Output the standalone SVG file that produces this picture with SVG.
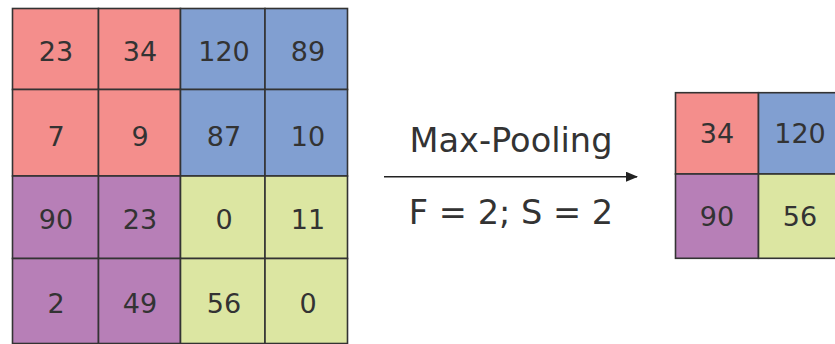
<svg xmlns="http://www.w3.org/2000/svg" width="835" height="344" viewBox="0 0 835 344">
<defs>
<style>
.r{fill:#F48E8C}.b{fill:#819FD1}.p{fill:#B77FB7}.g{fill:#DCE6A2}
rect{stroke:#333;stroke-width:1.6}
text{font-family:"DejaVu Sans",sans-serif;fill:#333;text-anchor:middle}
.n{font-size:27px}
.l{font-size:33.6px}
</style>
<marker id="ah" markerWidth="12" markerHeight="10" refX="11" refY="5" orient="auto" markerUnits="userSpaceOnUse">
<path d="M0,0 L12,5 L0,10 Z" fill="#222"/>
</marker>
</defs>
<g id="input">
<rect class="r" x="12.5" y="8.5" width="86" height="81"/>
<rect class="r" x="98.5" y="8.5" width="82" height="81"/>
<rect class="b" x="180.5" y="8.5" width="84.5" height="81"/>
<rect class="b" x="265" y="8.5" width="82.5" height="81"/>
<rect class="r" x="12.5" y="89.5" width="86" height="86.5"/>
<rect class="r" x="98.5" y="89.5" width="82" height="86.5"/>
<rect class="b" x="180.5" y="89.5" width="84.5" height="86.5"/>
<rect class="b" x="265" y="89.5" width="82.5" height="86.5"/>
<rect class="p" x="12.5" y="176" width="86" height="82.5"/>
<rect class="p" x="98.5" y="176" width="82" height="82.5"/>
<rect class="g" x="180.5" y="176" width="84.5" height="82.5"/>
<rect class="g" x="265" y="176" width="82.5" height="82.5"/>
<rect class="p" x="12.5" y="258.5" width="86" height="85"/>
<rect class="p" x="98.5" y="258.5" width="82" height="85"/>
<rect class="g" x="180.5" y="258.5" width="84.5" height="85"/>
<rect class="g" x="265" y="258.5" width="82.5" height="85"/>
<text class="n" x="56" y="61">23</text>
<text class="n" x="140" y="61">34</text>
<text class="n" x="224" y="61">120</text>
<text class="n" x="308" y="61">89</text>
<text class="n" x="56" y="146">7</text>
<text class="n" x="140" y="146">9</text>
<text class="n" x="224" y="146">87</text>
<text class="n" x="308" y="146">10</text>
<text class="n" x="56" y="229">90</text>
<text class="n" x="140" y="229">23</text>
<text class="n" x="224" y="229">0</text>
<text class="n" x="308" y="229">11</text>
<text class="n" x="56" y="313">2</text>
<text class="n" x="140" y="313">49</text>
<text class="n" x="224" y="313">56</text>
<text class="n" x="308" y="313">0</text>
</g>
<g id="output">
<rect class="r" x="675.5" y="92.7" width="83" height="81.3"/>
<rect class="b" x="758.5" y="92.7" width="83" height="81.3"/>
<rect class="p" x="675.5" y="174" width="83" height="84.3"/>
<rect class="g" x="758.5" y="174" width="83" height="84.3"/>
<text class="n" x="717" y="143">34</text>
<text class="n" x="800" y="143">120</text>
<text class="n" x="717" y="226">90</text>
<text class="n" x="800" y="226">56</text>
</g>
<g id="connectors">
<line x1="384" y1="176.7" x2="637" y2="176.7" stroke="#222" stroke-width="1.5" marker-end="url(#ah)"/>
</g>
<g id="labels">
<text class="l" x="511" y="152">Max-Pooling</text>
<text class="l" x="511" y="224">F = 2; S = 2</text>
</g>
</svg>
